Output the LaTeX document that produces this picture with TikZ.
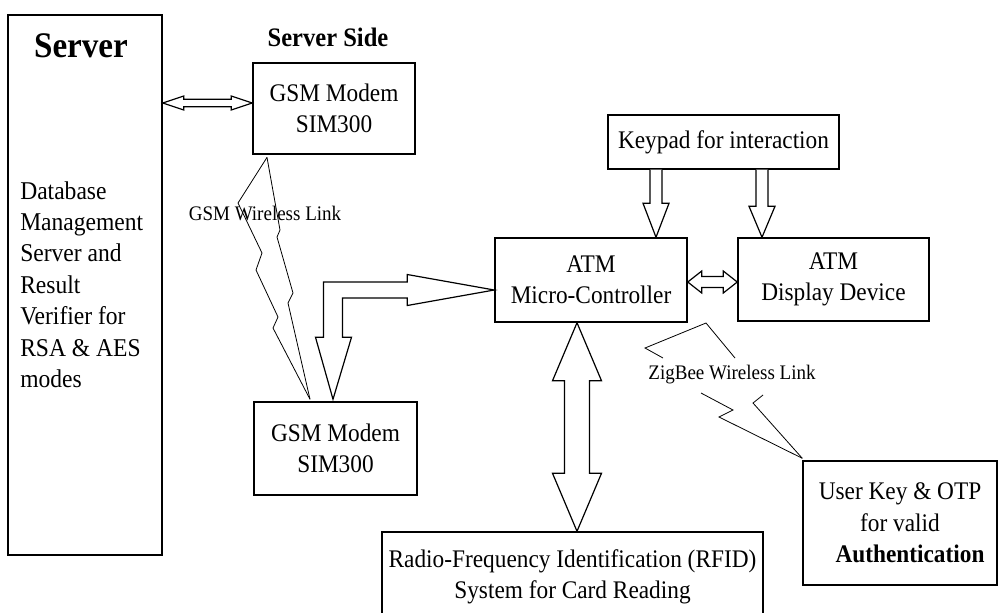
\documentclass[tikz,border=0pt]{standalone}
\usepackage{fontspec}
\setmainfont{Liberation Serif}[FakeStretch=0.92]
\usetikzlibrary{calc}
\newcommand\mainsz{\fontsize{19pt}{23.5pt}\selectfont}
\newcommand\linksz{\fontsize{15.5pt}{18pt}\selectfont}
% horizontal hollow double arrow: #1 left tip, #2 right tip, #3 shaft half, #4 head half, #5 head length
\newcommand\hdbl[5]{\draw[blk] (#1) -- ++(#5,-#4) -- ++(0,#4-#3) -- ($(#2)+(-#5,-#3)$) -- ++(0,#3-#4) -- (#2) -- ++(-#5,#4) -- ++(0,#3-#4) -- ($(#1)+(#5,#3)$) -- ++(0,#4-#3) -- cycle;}
% vertical hollow double arrow: #1 top tip, #2 bottom tip
\newcommand\vdbl[5]{\draw[blk] (#1) -- ++(-#4,#5) -- ++(#4-#3,0) -- ($(#2)+(-#3,-#5)$) -- ++(#3-#4,0) -- (#2) -- ++(#4,-#5) -- ++(#3-#4,0) -- ($(#1)+(#3,#5)$) -- ++(#4-#3,0) -- cycle;}
% vertical hollow single arrow: #1 tail (top), #2 tip (bottom)
\newcommand\vsgl[5]{\draw[blk] ($(#1)+(-#3,0)$) -- ($(#2)+(-#3,-#5)$) -- ++(#3-#4,0) -- (#2) -- ++(#4,-#5) -- ++(#3-#4,0) -- ($(#1)+(#3,0)$);}
\begin{document}
\begin{tikzpicture}[x=0.75pt,y=-0.75pt,
  box/.style={draw,line width=1.1pt,inner sep=0pt,align=center,font=\mainsz},
  blk/.style={draw,line width=0.9pt,line join=miter,fill=white},
  bolt/.style={draw,line width=0.6pt,line join=miter}]
\fill[white] (0,0) rectangle (998,612);
\useasboundingbox (0,0) rectangle (998,612);

% boxes
\node[box,minimum width=115.5pt,minimum height=405pt] (server) at (85,285) {};
\node[box,minimum width=121.5pt,minimum height=68.25pt] (gsm1) at (334,108.5) {GSM Modem\\SIM300};
\node[box,minimum width=122.25pt,minimum height=69.75pt] (gsm2) at (335.5,448.5) {GSM Modem\\SIM300};
\node[box,minimum width=144pt,minimum height=63pt] (atm) at (591,280) {ATM\\Micro-Controller};
\node[box,minimum width=143.25pt,minimum height=62.25pt] (disp) at (833.5,279.5) {ATM\\Display Device};
\node[box,minimum width=173.25pt,minimum height=40.5pt] (keypad) at (723.5,142) {Keypad for interaction};
\node[box,minimum width=285.75pt,minimum height=67.5pt] (rfid) at (572.5,577) {Radio-Frequency Identification (RFID)\\System for Card Reading};
\node[box,minimum width=145.5pt,minimum height=93pt] (user) at (900,523) {User Key \& OTP\\for valid\\\hspace*{15pt}\textbf{Authentication}};

% texts
\node[font=\fontsize{27pt}{30pt}\selectfont\bfseries,inner sep=0pt] (servertitle) at (81,46) {Server};
\node[font=\fontsize{19.2pt}{23.6pt}\selectfont,align=left,anchor=north west,inner sep=0pt] (serverbody) at (20,181)
  {Database\\Management\\Server and\\Result\\Verifier for\\RSA \& AES\\modes};
\node[font=\fontsize{20pt}{24pt}\selectfont\bfseries,inner sep=0pt] (side) at (328,37) {Server Side};

% helper coordinates
\coordinate (xk1) at (656,0);
\coordinate (xk2) at (762,0);
\coordinate (xr) at (577,0);
\coordinate (y1) at (0,103);
\coordinate (y2) at (0,282);
\coordinate (y3) at (0,290);
\coordinate (x3) at (333,0);
\coordinate (xT) at (267,0);
\coordinate (xB) at (310,0);

% block arrows
\hdbl{server.east |- y1}{gsm1.west |- y1}{3.7}{7}{21}
\hdbl{atm.east |- y2}{disp.west |- y2}{5.5}{11}{14}
\vsgl{keypad.south -| xk1}{atm.north -| xk1}{6}{13}{34}
\vsgl{keypad.south -| xk2}{disp.north -| xk2}{6}{13}{31}
\vdbl{atm.south -| xr}{rfid.north -| xr}{12.5}{24.5}{58}

% L-shaped arrow between ATM and lower GSM modem
\coordinate (R) at (atm.west |- y3);
\coordinate (D) at ([yshift=1.5pt]gsm2.north -| x3);
\draw[blk] (R) -- ($(R)+(-87,-15.5)$) -- ($(R)+(-87,-8)$) -- ($(D|-R)+(-9.5,-8)$)
  -- ($(D)+(-9.5,-62)$) -- ($(D)+(-17.5,-62)$) -- (D) -- ($(D)+(18.5,-62)$)
  -- ($(D)+(9.5,-62)$) -- ($(D|-R)+(9.5,8)$) -- ($(R)+(-87,8)$) -- ($(R)+(-87,15.5)$) -- cycle;

% GSM wireless link (lightning)
\coordinate (T) at ([yshift=-2pt]gsm1.south -| xT);
\coordinate (B) at ([yshift=1.5pt]gsm2.north -| xB);
\draw[bolt] (T) -- (238,203) -- (262,253) -- (256,270) -- (278,317) -- (273,328) -- (B);
\draw[bolt] (T) -- (280,230) -- (277,237) -- (293,293) -- (288,303) -- (B);
\node[font=\linksz,inner sep=0pt] (gsmlink) at (265,213) {GSM Wireless Link};

% ZigBee wireless link (lightning)
\coordinate (Z) at (706,323);
\coordinate (U) at ([xshift=0pt,yshift=1.5pt]user.north west);
\draw[bolt] (663,358) -- (645,348) -- (Z) -- (735,358);
\draw[bolt] (701,393) -- (733,410) -- (719,417) -- (U);
\draw[bolt] (763,395) -- (753,403) -- (U);
\node[font=\linksz,inner sep=0pt] (zlink) at (732,375) {ZigBee Wireless Link};
\end{tikzpicture}
\end{document}
